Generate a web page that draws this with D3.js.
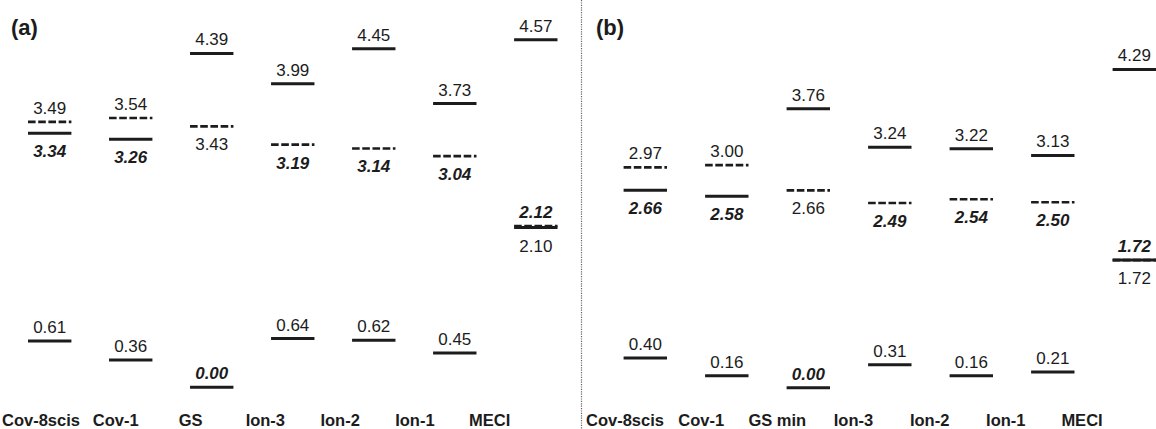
<!DOCTYPE html>
<html>
<head>
<meta charset="utf-8">
<script src="https://cdn.jsdelivr.net/npm/d3@7"></script>
<style>
  html, body { margin: 0; padding: 0; background: #fff; }
  svg { display: block; font-family: "Liberation Sans", Arial, Helvetica, sans-serif; }
</style>
</head>
<body>
<svg id="chart" width="1156" height="429"></svg>
<script>
// Relative energies (eV) at each geometry.
// s0: ground-state level, s1: upper solid level, d: dashed level.
// opt: which level the geometry was optimized on (drawn bold italic).
const categoriesA = ["Cov-8scis", "Cov-1", "GS", "Ion-3", "Ion-2", "Ion-1", "MECI"];
const s0A = [0.61, 0.36, 0.00, 0.64, 0.62, 0.45, 2.10];
const s1A = [3.34, 3.26, 4.39, 3.99, 4.45, 3.73, 4.57];
const dA  = [3.49, 3.54, 3.43, 3.19, 3.14, 3.04, 2.12];
const optA = ["s1", "s1", "s0", "d", "d", "d", "d"];

const categoriesB = ["Cov-8scis", "Cov-1", "GS min", "Ion-3", "Ion-2", "Ion-1", "MECI"];
const s0B = [0.40, 0.16, 0.00, 0.31, 0.16, 0.21, 1.72];
const s1B = [2.66, 2.58, 3.76, 3.24, 3.22, 3.13, 4.29];
const dB  = [2.97, 3.00, 2.66, 2.49, 2.54, 2.50, 1.72];
const optB = ["s1", "s1", "s0", "d", "d", "d", "d"];

const svg = d3.select("#chart");
const ink = "#1c1c1c";
const halfW = 21.7;

// Divider between the two panels
svg.append("line")
  .attr("x1", 581.5).attr("x2", 581.5)
  .attr("y1", 0).attr("y2", 429)
  .attr("stroke", "#666").attr("stroke-width", 1.2)
  .attr("stroke-dasharray", "1.2,1.2");

function panel(cfg) {
  const g = svg.append("g");
  const x = d3.scalePoint().domain(cfg.categories).range(cfg.xRange);
  const xLab = d3.scalePoint().domain(cfg.categories).range(cfg.labelRange);
  const y = d3.scaleLinear().domain([0, 5]).range(cfg.yRange);

  // Flatten levels; equal values put the dashed level above the solid one
  const rank = { s0: 0, s1: 1, d: 2 };
  const levels = [];
  cfg.categories.forEach((c, i) => {
    const group = [
      { cat: c, key: "s0", v: cfg.s0[i], dashed: false },
      { cat: c, key: "s1", v: cfg.s1[i], dashed: false },
      { cat: c, key: "d",  v: cfg.d[i],  dashed: true }
    ].filter(l => l.v != null);
    group.forEach(l => { l.opt = cfg.opt[i] === l.key; });
    group.sort((a, b) => (a.v - b.v) || (a.dashed - b.dashed) || (rank[a.key] - rank[b.key]));
    group.forEach((l, j) => {
      const next = group[j + 1];
      // label goes under the line when another level sits close above it
      l.below = !!next && (next.v - l.v) < 1.5;
      levels.push(l);
    });
  });

  g.selectAll("line.level")
    .data(levels)
    .join("line")
    .attr("class", "level")
    .attr("x1", l => x(l.cat) - halfW)
    .attr("x2", l => x(l.cat) + halfW)
    .attr("y1", l => y(l.v))
    .attr("y2", l => y(l.v))
    .attr("stroke", ink)
    .attr("stroke-width", l => l.dashed ? 2.6 : 3)
    .attr("stroke-dasharray", l => l.dashed ? "7.6,2.6" : null);

  g.selectAll("text.value")
    .data(levels)
    .join("text")
    .attr("class", "value")
    .attr("x", l => x(l.cat))
    .attr("y", l => y(l.v) + (l.below ? 24 : -8))
    .attr("text-anchor", "middle")
    .attr("font-size", 17)
    .attr("font-weight", l => l.opt ? "bold" : "normal")
    .attr("font-style", l => l.opt ? "italic" : "normal")
    .attr("fill", ink)
    .text(l => d3.format(".2f")(l.v));

  g.selectAll("text.cat")
    .data(cfg.categories)
    .join("text")
    .attr("class", "cat")
    .attr("x", c => xLab(c))
    .attr("y", 426)
    .attr("text-anchor", "middle")
    .attr("font-size", 16.5)
    .attr("font-weight", "bold")
    .attr("fill", ink)
    .text(c => c);

  g.append("text")
    .attr("x", cfg.tagX)
    .attr("y", 35)
    .attr("font-size", 22)
    .attr("font-weight", "bold")
    .attr("fill", ink)
    .text(cfg.tag);
}

panel({
  tag: "(a)", tagX: 11,
  categories: categoriesA, s0: s0A, s1: s1A, d: dA, opt: optA,
  xRange: [49.7, 535.8], labelRange: [41, 489.7], yRange: [387.3, 7.0]
});

panel({
  tag: "(b)", tagX: 596,
  categories: categoriesB, s0: s0B, s1: s1B, d: dB, opt: optB,
  xRange: [645.3, 1134.3], labelRange: [625, 1082], yRange: [387.7, 16.7]
});
</script>
</body>
</html>
